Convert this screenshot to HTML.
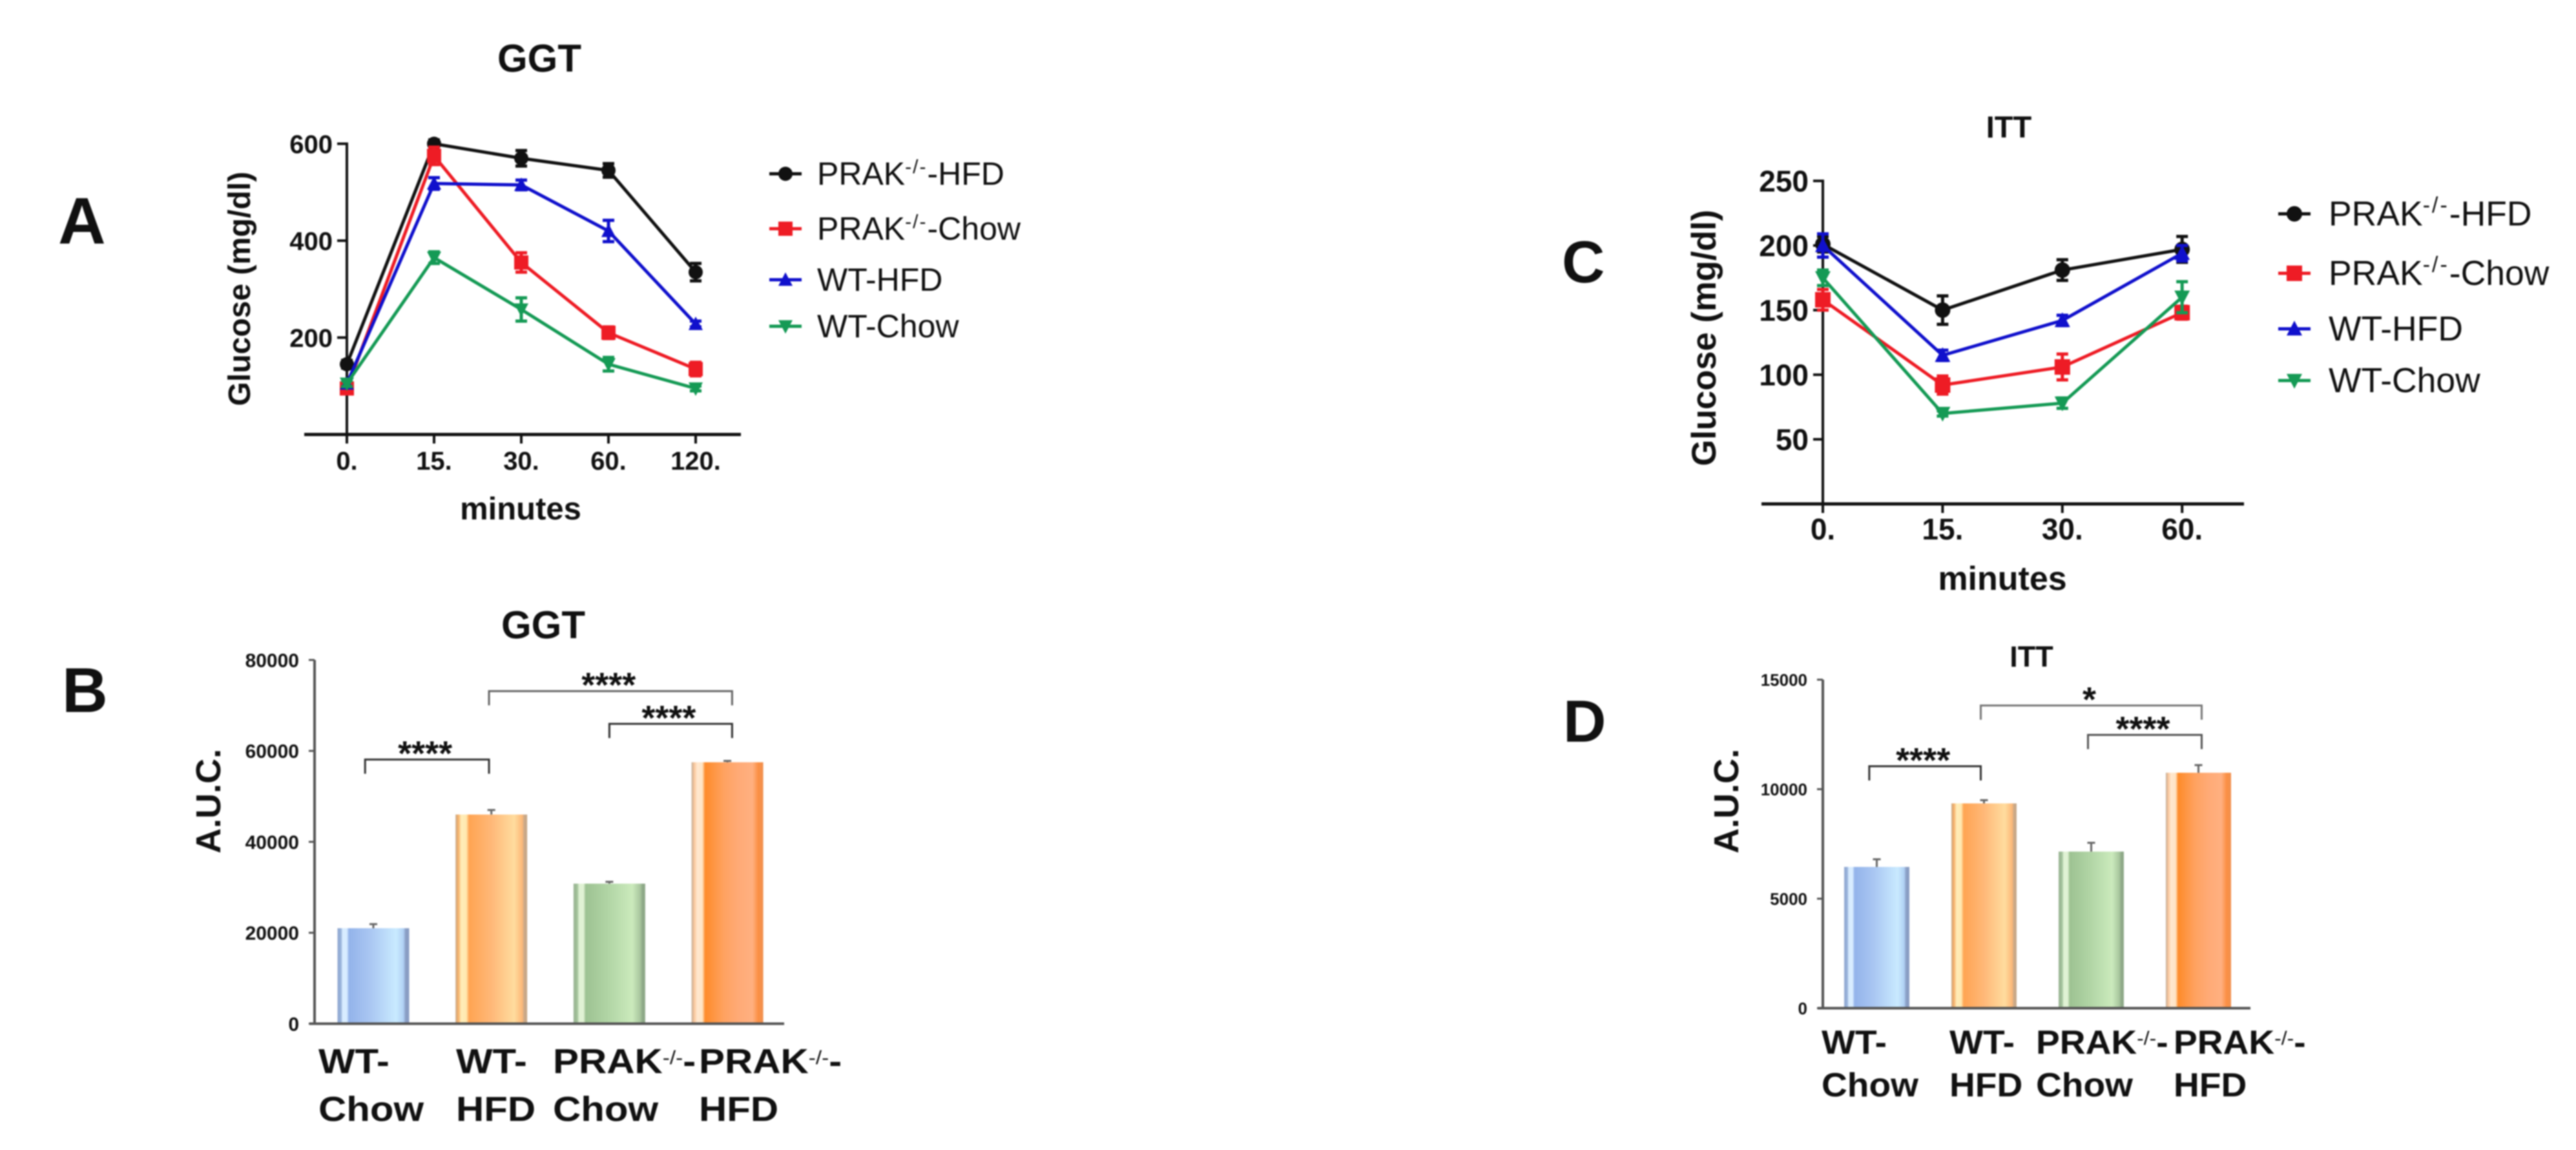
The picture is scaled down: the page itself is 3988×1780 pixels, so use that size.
<!DOCTYPE html>
<html>
<head>
<meta charset="utf-8">
<title>GGT and ITT glucose charts</title>
<style>
html,body{margin:0;padding:0;background:#fff;}
svg{display:block;filter:blur(1.1px);}
text{font-family:"Liberation Sans",sans-serif;fill:#111;}
.b{font-weight:bold;}
</style>
</head>
<body>
<svg id="figure" xmlns="http://www.w3.org/2000/svg" width="3988" height="1780" viewBox="0 0 3988 1780">
<defs>
<linearGradient id="g-blue"><stop offset="0" stop-color="#8ea6d0"/><stop offset=".05" stop-color="#9ab4dc"/><stop offset=".07" stop-color="#d8ecff"/><stop offset=".13" stop-color="#d8ecff"/><stop offset=".16" stop-color="#93b3ea"/><stop offset=".45" stop-color="#a9c6f2"/><stop offset=".82" stop-color="#c9eaff"/><stop offset=".92" stop-color="#b0d0f4"/><stop offset=".95" stop-color="#8a9ec4"/><stop offset="1" stop-color="#8a9ec4"/></linearGradient>
<linearGradient id="g-orange"><stop offset="0" stop-color="#c8aa88"/><stop offset=".04" stop-color="#f8b068"/><stop offset=".08" stop-color="#ffedb8"/><stop offset=".15" stop-color="#ffe8b0"/><stop offset=".19" stop-color="#ffa452"/><stop offset=".5" stop-color="#ffb878"/><stop offset=".82" stop-color="#ffdc9e"/><stop offset=".93" stop-color="#fdb878"/><stop offset=".96" stop-color="#c8a888"/><stop offset="1" stop-color="#c8a888"/></linearGradient>
<linearGradient id="g-green"><stop offset="0" stop-color="#9ab494"/><stop offset=".05" stop-color="#a0c098"/><stop offset=".08" stop-color="#e0f2d4"/><stop offset=".14" stop-color="#e0f2d4"/><stop offset=".17" stop-color="#9dc292"/><stop offset=".5" stop-color="#b2d6a6"/><stop offset=".82" stop-color="#cbeabc"/><stop offset=".93" stop-color="#a8c69e"/><stop offset=".96" stop-color="#8ea888"/><stop offset="1" stop-color="#8ea888"/></linearGradient>
<linearGradient id="g-deep"><stop offset="0" stop-color="#c4ad98"/><stop offset=".04" stop-color="#fcc89c"/><stop offset=".08" stop-color="#ffe8d0"/><stop offset=".15" stop-color="#ffe4c4"/><stop offset=".19" stop-color="#fe8b2a"/><stop offset=".45" stop-color="#ffa260"/><stop offset=".65" stop-color="#ffaa76"/><stop offset=".85" stop-color="#ffb080"/><stop offset=".93" stop-color="#fb9044"/><stop offset="1" stop-color="#f09050"/></linearGradient>
</defs>

<text class="b" x="90" y="377" font-size="102">A</text>
<text class="b" x="96" y="1102" font-size="98">B</text>
<text class="b" x="2418" y="437" font-size="92">C</text>
<text class="b" x="2420" y="1148" font-size="92">D</text>

<text class="b" x="835" y="111" font-size="60" text-anchor="middle">GGT</text>
<text class="b" transform="translate(387 447) rotate(-90)" font-size="48" text-anchor="middle">Glucose (mg/dl)</text>
<text class="b" x="806" y="804" font-size="49" text-anchor="middle">minutes</text>

<text class="b" x="841" y="988" font-size="60" text-anchor="middle">GGT</text>
<text class="b" transform="translate(341 1240) rotate(-90)" font-size="54" text-anchor="middle">A.U.C.</text>

<text class="b" x="3110" y="213" font-size="47" text-anchor="middle">ITT</text>
<text class="b" transform="translate(2656 523) rotate(-90)" font-size="52.5" text-anchor="middle">Glucose (mg/dl)</text>
<text class="b" x="3100" y="913" font-size="52" text-anchor="middle">minutes</text>

<text class="b" x="3145" y="1032" font-size="45" text-anchor="middle">ITT</text>
<text class="b" transform="translate(2691 1240) rotate(-90)" font-size="54" text-anchor="middle">A.U.C.</text>

<g font-size="54" font-weight="bold">
<text transform="translate(493 0) scale(1.11 1)"><tspan x="0" y="1661">WT-</tspan><tspan x="0" y="1735">Chow</tspan></text>
<text transform="translate(706 0) scale(1.11 1)"><tspan x="0" y="1661">WT-</tspan><tspan x="0" y="1735">HFD</tspan></text>
<text transform="translate(856 0) scale(1.11 1)"><tspan x="0" y="1661">PRAK</tspan><tspan dy="-14" font-size="30" font-weight="normal">-/-</tspan><tspan dy="14">-</tspan><tspan x="0" y="1735">Chow</tspan></text>
<text transform="translate(1082 0) scale(1.11 1)"><tspan x="0" y="1661">PRAK</tspan><tspan dy="-14" font-size="30" font-weight="normal">-/-</tspan><tspan dy="14">-</tspan><tspan x="0" y="1735">HFD</tspan></text>
</g>
<g font-size="52" font-weight="bold">
<text transform="translate(2820 0) scale(1.06 1)"><tspan x="0" y="1631">WT-</tspan><tspan x="0" y="1697">Chow</tspan></text>
<text transform="translate(3018 0) scale(1.06 1)"><tspan x="0" y="1631">WT-</tspan><tspan x="0" y="1697">HFD</tspan></text>
<text transform="translate(3152 0) scale(1.06 1)"><tspan x="0" y="1631">PRAK</tspan><tspan dy="-14" font-size="30" font-weight="normal">-/-</tspan><tspan dy="14">-</tspan><tspan x="0" y="1697">Chow</tspan></text>
<text transform="translate(3365 0) scale(1.06 1)"><tspan x="0" y="1631">PRAK</tspan><tspan dy="-14" font-size="30" font-weight="normal">-/-</tspan><tspan dy="14">-</tspan><tspan x="0" y="1697">HFD</tspan></text>
</g>

<g font-size="50" fill="#222">
<text x="1265" y="286">PRAK<tspan dy="-18" font-size="30" letter-spacing="2">-/-</tspan><tspan dy="18">-HFD</tspan></text>
<text x="1265" y="371">PRAK<tspan dy="-18" font-size="30" letter-spacing="2">-/-</tspan><tspan dy="18">-Chow</tspan></text>
<text x="1265" y="450">WT-HFD</text>
<text x="1265" y="522">WT-Chow</text>
</g>
<g font-size="53.5" fill="#222">
<text x="3605" y="349">PRAK<tspan dy="-20" font-size="34" letter-spacing="3">-/-</tspan><tspan dy="20">-HFD</tspan></text>
<text x="3605" y="441">PRAK<tspan dy="-20" font-size="34" letter-spacing="3">-/-</tspan><tspan dy="20">-Chow</tspan></text>
<text x="3605" y="527">WT-HFD</text>
<text x="3605" y="607">WT-Chow</text>
</g>
</svg>

<script>
const seriesColors = ['#111111', '#ee1c25', '#1010cc', '#159a55'];
const seriesShapes = ['circle', 'square', 'up', 'down'];
const seriesKeys = ['prak-hfd', 'prak-chow', 'wt-hfd', 'wt-chow'];

const ggtTimes = ['0.', '15.', '30.', '60.', '120.'];
const ggtYTicks = [200, 400, 600];
const ggtPrakHfd = [145, 600, 570, 545, 335];
const ggtPrakChow = [95, 575, 355, 210, 135];
const ggtWtHfd = [105, 518, 515, 420, 228];
const ggtWtChow = [105, 365, 258, 145, 95];
const ggtPrakHfdErr = [8, 8, 16, 14, 18];
const ggtPrakChowErr = [8, 18, 20, 12, 14];
const ggtWtHfdErr = [8, 12, 10, 22, 6];
const ggtWtChowErr = [6, 12, 24, 14, 5];

const ittTimes = ['0.', '15.', '30.', '60.'];
const ittYTicks = [50, 100, 150, 200, 250];
const ittPrakHfd = [201, 150, 181, 197];
const ittPrakChow = [158, 92, 106, 148];
const ittWtHfd = [200, 115, 142, 194];
const ittWtChow = [175, 70, 78, 160];
const ittPrakHfdErr = [6, 11, 8, 10];
const ittPrakChowErr = [8, 7, 10, 5];
const ittWtHfdErr = [9, 4, 4, 6];
const ittWtChowErr = [6, 2, 4, 12];

const ggtAucGroups = ['wt-chow', 'wt-hfd', 'prak-chow', 'prak-hfd'];
const ggtAucValues = [21000, 46000, 30800, 57500];
const ggtAucErrors = [900, 1000, 400, 300];
const ggtAucTicks = [0, 20000, 40000, 60000, 80000];
const ggtBracketFrom = [-0.07, 0.98, 2.0];
const ggtBracketTo = [0.98, 3.04, 3.04];
const ggtBracketLevels = [58100, 73150, 65950];
const ggtBracketStars = ['****', '****', '****'];

const ittAucGroups = ['wt-chow', 'wt-hfd', 'prak-chow', 'prak-hfd'];
const ittAucValues = [6450, 9350, 7150, 10750];
const ittAucErrors = [350, 150, 400, 350];
const ittAucTicks = [0, 5000, 10000, 15000];
const ittBracketFrom = [-0.07, 0.97, 1.97];
const ittBracketTo = [0.97, 3.03, 3.03];
const ittBracketLevels = [11047, 13820, 12479];
const ittBracketStars = ['****', '*', '****'];

const NS = 'http://www.w3.org/2000/svg';
const root = document.getElementById('figure');

function make(tag, parent, attrs, txt) {
  const n = document.createElementNS(NS, tag);
  for (const k in attrs) n.setAttribute(k, attrs[k]);
  if (txt !== undefined) n.textContent = txt;
  parent.appendChild(n);
  return n;
}

function drawMarker(parent, shape, cx, cy, r, color) {
  if (shape === 'circle') return make('circle', parent, {cx: cx, cy: cy, r: r, fill: color});
  if (shape === 'square') return make('rect', parent, {x: cx - r, y: cy - r, width: 2 * r, height: 2 * r, fill: color});
  if (shape === 'up') return make('polygon', parent, {points: [cx - r, cy + r * 0.85, cx + r, cy + r * 0.85, cx, cy - r * 1.05].join(' '), fill: color});
  return make('polygon', parent, {points: [cx - r, cy - r * 0.85, cx + r, cy - r * 0.85, cx, cy + r * 1.05].join(' '), fill: color});
}

function drawLineChart(prefix, o) {
  const x = function (i) { return o.x0 + i * o.dx; };
  const y = function (v) { return o.base - v * o.k; };
  const g = make('g', root, {});
  
  

  const yAxis = make('line', g, {x1: o.x0, x2: o.x0, y1: y(o.yTicks[o.yTicks.length - 1]) - 2, y2: o.base + 14, stroke: '#111', 'stroke-width': 4});
  
  
  const xAxis = make('line', g, {x1: o.axL, x2: o.axR, y1: o.base, y2: o.base, stroke: '#111', 'stroke-width': 5});
  
  

  o.yTicks.forEach(function (t) {
    const tick = make('line', g, {x1: o.x0 - 15, x2: o.x0, y1: y(t), y2: y(t), stroke: '#111', 'stroke-width': 4});
    
    
    const lab = make('text', g, {x: o.x0 - 22, y: y(t) + o.fs * 0.36, 'text-anchor': 'end', 'font-size': o.fs, 'font-weight': 'bold'}, String(t));
    
    
  });
  o.times.forEach(function (t, i) {
    const tick = make('line', g, {x1: x(i), x2: x(i), y1: o.base, y2: o.base + 14, stroke: '#111', 'stroke-width': 4});
    
    
    const lab = make('text', g, {x: x(i), y: o.labelY, 'text-anchor': 'middle', 'font-size': o.fs, 'font-weight': 'bold'}, t);
    
    
  });

  o.series.forEach(function (vals, s) {
    const color = seriesColors[s];
    const sg = make('g', g, {});
    
    
    const pts = vals.map(function (v, i) { return x(i) + ',' + y(v); }).join(' ');
    const line = make('polyline', sg, {points: pts, fill: 'none', stroke: color, 'stroke-width': 5});
    
    
    vals.forEach(function (v, i) {
      const e = o.errors[s][i];
      const bar = make('path', sg, {d: 'M' + (x(i) - 9) + ' ' + y(v + e) + 'H' + (x(i) + 9) + 'M' + x(i) + ' ' + y(v + e) + 'V' + y(v - e) + 'M' + (x(i) - 9) + ' ' + y(v - e) + 'H' + (x(i) + 9), fill: 'none', stroke: color, 'stroke-width': 5});
      
      
      const m = drawMarker(sg, seriesShapes[s], x(i), y(v), o.r, color);
      
      
    });
  });

  o.legendY.forEach(function (ly, s) {
    const color = seriesColors[s];
    const lg = make('g', g, {});
    
    
    make('line', lg, {x1: o.legendX - 25, x2: o.legendX + 25, y1: ly, y2: ly, stroke: color, 'stroke-width': 5});
    drawMarker(lg, seriesShapes[s], o.legendX, ly, o.r, color);
  });
}

function drawBarChart(prefix, o) {
  const x = function (i) { return o.first + i * o.step; };
  const y = function (v) { return o.base - v * o.k; };
  const g = make('g', root, {});
  
  

  o.values.forEach(function (v, i) {
    const bar = make('rect', g, {x: x(i) - o.w / 2, y: y(v), width: o.w, height: o.base - y(v), fill: 'url(#' + o.fills[i] + ')'});
    
    
    const top = y(v + o.errors[i]);
    const err = make('path', g, {d: 'M' + (x(i) - 6) + ' ' + top + 'H' + (x(i) + 6) + 'M' + x(i) + ' ' + top + 'V' + y(v), fill: 'none', stroke: '#666', 'stroke-width': 3});
    
    
  });

  const yAxis = make('line', g, {x1: o.x0, x2: o.x0, y1: y(o.ticks[o.ticks.length - 1]), y2: o.base, stroke: '#555', 'stroke-width': 4});
  
  
  const xAxis = make('line', g, {x1: o.x0 - 8, x2: o.axR, y1: o.base, y2: o.base, stroke: '#555', 'stroke-width': 4});
  
  
  o.ticks.forEach(function (t) {
    const tick = make('line', g, {x1: o.x0 - 9, x2: o.x0, y1: y(t), y2: y(t), stroke: '#555', 'stroke-width': 3});
    
    
    const lab = make('text', g, {x: o.x0 - 24, y: y(t) + o.fs * 0.36, 'text-anchor': 'end', 'font-size': o.fs, 'font-weight': 'bold', fill: '#222'}, String(t));
    
    
  });

  o.bFrom.forEach(function (f, i) {
    const yb = y(o.bLevels[i]);
    const x1 = x(f);
    const x2 = x(o.bTo[i]);
    const br = make('path', g, {d: 'M' + x1 + ' ' + (yb + 22) + 'V' + yb + 'H' + x2 + 'V' + (yb + 22), fill: 'none', stroke: o.bColors[i], 'stroke-width': 3});
    
    
    const st = make('text', g, {x: (x1 + x2) / 2 - 3, y: yb + 9, 'text-anchor': 'middle', 'font-size': 54, 'font-weight': 'bold', fill: '#333'}, o.bStars[i]);
    
    
  });
}

drawLineChart('ggt', {
  x0: 537, dx: 135, base: 672.5, k: 0.75, axL: 471, axR: 1147, fs: 40, r: 11, labelY: 727,
  times: ggtTimes, yTicks: ggtYTicks,
  series: [ggtPrakHfd, ggtPrakChow, ggtWtHfd, ggtWtChow],
  errors: [ggtPrakHfdErr, ggtPrakChowErr, ggtWtHfdErr, ggtWtChowErr],
  legendX: 1216, legendY: [269, 354, 433, 505]
});

drawLineChart('itt', {
  x0: 2822, dx: 185.4, base: 780, k: 2, axL: 2727, axR: 3474, fs: 46, r: 12, labelY: 835,
  times: ittTimes, yTicks: ittYTicks,
  series: [ittPrakHfd, ittPrakChow, ittWtHfd, ittWtChow],
  errors: [ittPrakHfdErr, ittPrakChowErr, ittWtHfdErr, ittWtChowErr],
  legendX: 3552, legendY: [331, 423, 509, 589]
});

drawBarChart('ggt-auc', {
  x0: 487, first: 578, step: 182.7, w: 111, base: 1584.5, k: 563 / 80000, axR: 1214, fs: 30,
  groups: ggtAucGroups, values: ggtAucValues, errors: ggtAucErrors, ticks: ggtAucTicks,
  fills: ['g-blue', 'g-orange', 'g-green', 'g-deep'],
  bFrom: ggtBracketFrom, bTo: ggtBracketTo, bLevels: ggtBracketLevels, bStars: ggtBracketStars,
  bColors: ['#333', '#666', '#333']
});

drawBarChart('itt-auc', {
  x0: 2822, first: 2905.5, step: 166, w: 101, base: 1560.5, k: 0.0339, axR: 3484, fs: 26,
  groups: ittAucGroups, values: ittAucValues, errors: ittAucErrors, ticks: ittAucTicks,
  fills: ['g-blue', 'g-orange', 'g-green', 'g-deep'],
  bFrom: ittBracketFrom, bTo: ittBracketTo, bLevels: ittBracketLevels, bStars: ittBracketStars,
  bColors: ['#333', '#777', '#555']
});
</script>
</body>
</html>
